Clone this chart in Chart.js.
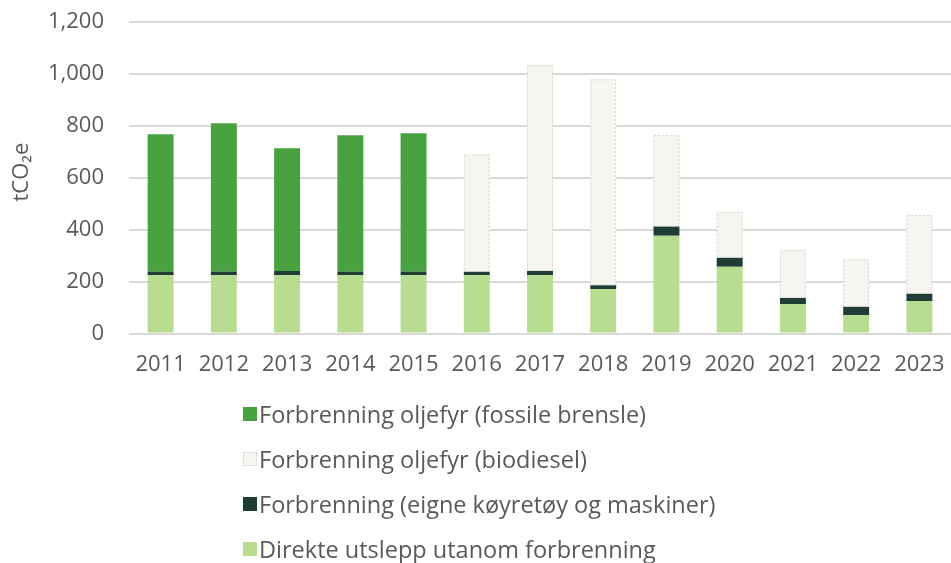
<!DOCTYPE html>
<html>
<head>
<meta charset="utf-8">
<script src="https://cdn.jsdelivr.net/npm/chart.js@4"></script>
<style>
    html, body { margin: 0; padding: 0; background: #fff; overflow: hidden; }
    #wrap { position: relative; width: 951px; height: 563px; font-family: "Open Sans", sans-serif; }
    #chart-box { position: absolute; left: 0; top: 0; width: 951px; height: 395px; }
    #legend { position: absolute; left: 243px; top: 391px; margin: 0; padding: 0; list-style: none; }
    #legend li { height: 45px; display: flex; align-items: center; font-size: 23.5px; color: #595959; }
    #legend .box { width: 14px; height: 14px; margin-right: 2px; box-sizing: border-box; }
</style>
</head>
<body>
<div id="wrap">
    <div id="chart-box"><canvas id="emissions-chart"></canvas></div>
    <ul id="legend"></ul>
</div>
<script>
    const years = ["2011", "2012", "2013", "2014", "2015", "2016", "2017", "2018", "2019", "2020", "2021", "2022", "2023"];
    const direkte = [226, 226, 226, 226, 226, 226, 226, 172, 377, 257, 114, 72, 126];
    const eigne = [12, 12, 15, 12, 12, 12, 15, 14, 35, 35, 23, 31, 27];
    const biodiesel = [0, 0, 0, 0, 0, 452, 794, 793, 352, 177, 185, 183, 304];
    const fossil = [530, 572, 473, 526, 534, 0, 0, 0, 0, 0, 0, 0, 0];
    const yTicks = [0, 200, 400, 600, 800, 1000, 1200];

    const grey = "#595959";
    Chart.defaults.font.family = "Open Sans";
    Chart.defaults.color = grey;

    // bars have no borderDash in chart.js, so stroke the dotted outline ourselves
    const dottedBorder = {
        id: "dottedBorder",
        afterDatasetsDraw(chart) {
            const ctx = chart.ctx;
            chart.data.datasets.forEach((ds, i) => {
                if (!ds._dotted) return;
                chart.getDatasetMeta(i).data.forEach((bar, j) => {
                    if (!ds.data[j]) return;
                    const p = bar.getProps(["x", "y", "base", "width"], true);
                    ctx.save();
                    ctx.strokeStyle = "#d6d6d0";
                    ctx.lineWidth = 1;
                    ctx.setLineDash([2, 2]);
                    ctx.strokeRect(p.x - p.width / 2 + 0.5, p.y + 0.5, p.width - 1, p.base - p.y - 1);
                    ctx.restore();
                });
            });
        }
    };

    const datasets = [
        { label: "Direkte utslepp utanom forbrenning", data: direkte, backgroundColor: "#b8dc90" },
        { label: "Forbrenning (eigne køyretøy og maskiner)", data: eigne, backgroundColor: "#1f3d34" },
        { label: "Forbrenning oljefyr (biodiesel)", data: biodiesel, backgroundColor: "#f6f6f1", _dotted: true },
        { label: "Forbrenning oljefyr (fossile brensle)", data: fossil, backgroundColor: "#49a240" }
    ];

    const chart = new Chart(document.getElementById("emissions-chart"), {
        type: "bar",
        data: {
            labels: years,
            datasets: datasets.map(ds => Object.assign({
                barPercentage: 0.41,
                categoryPercentage: 1,
                borderWidth: 0
            }, ds))
        },
        plugins: [dottedBorder],
        options: {
            animation: false,
            responsive: true,
            maintainAspectRatio: false,
            layout: { padding: { top: 0, right: -7, bottom: 0, left: 0 } },
            scales: {
                x: {
                    stacked: true,
                    afterFit: axis => {
                        axis.paddingLeft = 0;
                        axis.paddingRight = 0;
                    },
                    grid: { display: false, drawTicks: false },
                    border: { display: false },
                    ticks: { font: { size: 22 }, color: grey, padding: 17.5, maxRotation: 0 }
                },
                y: {
                    stacked: true,
                    min: 0,
                    max: 1200,
                    afterBuildTicks: axis => { axis.ticks = yTicks.map(v => ({ value: v })); },
                    afterFit: axis => {
                        axis.width = 129;
                        axis.paddingTop = 22;
                        axis.paddingBottom = 0;
                    },
                    grid: { color: "#d9d9d9", lineWidth: 2, drawTicks: false },
                    border: { display: false },
                    ticks: {
                        font: { size: 22 },
                        color: grey,
                        padding: 25,
                        callback: v => v.toLocaleString("en-US")
                    },
                    title: {
                        display: true,
                        text: "  tCO₂e",
                        font: { size: 22 },
                        color: grey,
                        padding: { top: 9, bottom: 0 }
                    }
                }
            },
            plugins: {
                legend: { display: false },
                tooltip: { enabled: false }
            }
        }
    });

    // legend is one item per row, which chart.js cannot do at the bottom, so build it in html
    const legend = document.getElementById("legend");
    datasets.slice().reverse().forEach(ds => {
        const li = document.createElement("li");
        const box = document.createElement("span");
        box.className = "box";
        box.style.background = ds.backgroundColor;
        if (ds._dotted) box.style.border = "1px dotted #cfcfc8";
        li.appendChild(box);
        li.appendChild(document.createTextNode(ds.label));
        legend.appendChild(li);
    });
</script>
</body>
</html>
